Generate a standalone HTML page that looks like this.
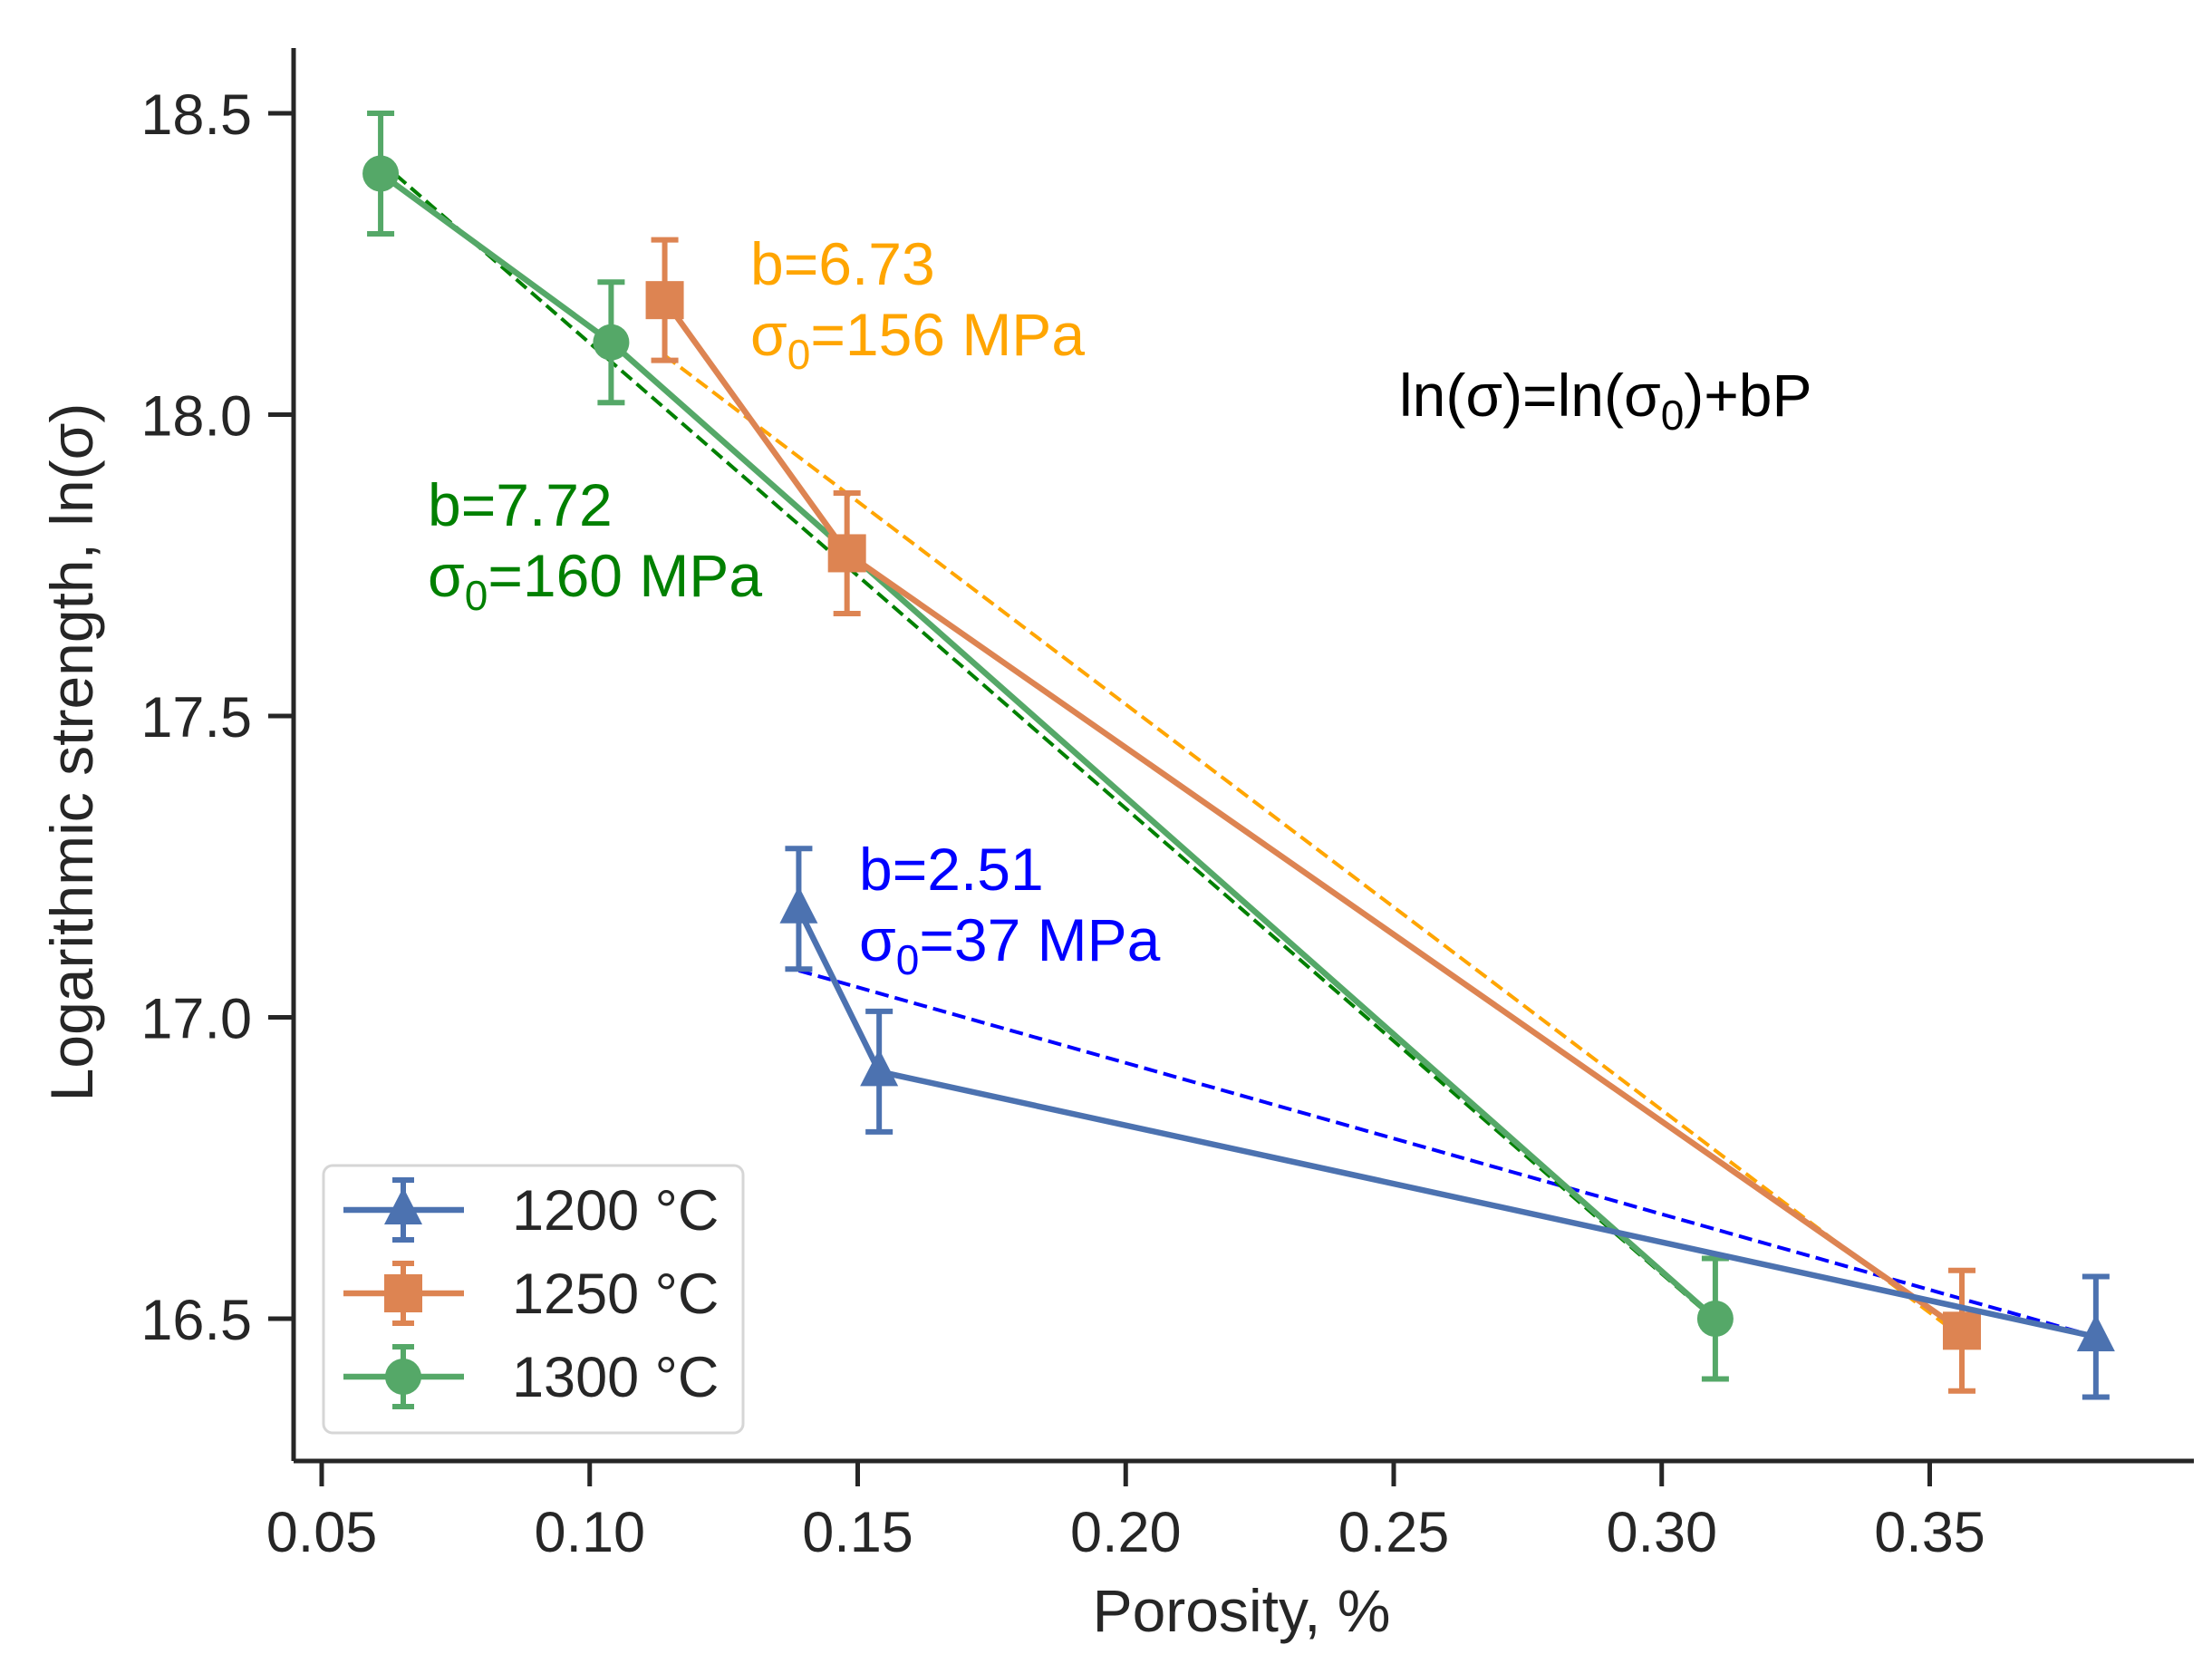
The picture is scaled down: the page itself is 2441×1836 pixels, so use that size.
<!DOCTYPE html>
<html><head><meta charset="utf-8"><style>body{margin:0;background:#fff}svg{display:block}text{font-family:"Liberation Sans",sans-serif}</style></head>
<body>
<svg id="chart" width="2441" height="1836" viewBox="0 0 2441 1836" xmlns="http://www.w3.org/2000/svg"></svg>
<script>
const xTicks=[0.05,0.10,0.15,0.20,0.25,0.30,0.35];
const yTicks=[16.5,17.0,17.5,18.0,18.5];
const seriesNames=["1200 °C","1250 °C","1300 °C"];
const x1200=[0.139,0.154,0.381]; const y1200=[17.18,16.91,16.47];
const x1250=[0.114,0.148,0.356]; const y1250=[18.19,17.77,16.48];
const x1300=[0.061,0.104,0.310]; const y1300=[18.40,18.12,16.50];
const errVals=[0.1,0.1,0.1];
const fitB=[2.51,6.73,7.72]; const fitS0=[37,156,160];
const S="http://www.w3.org/2000/svg", svg=document.getElementById('chart');
const X=v=>355+(v-0.05)*5915, Y=v=>125+(18.5-v)*665;
function el(t,a,p){const e=document.createElementNS(S,t);for(const k in a)e.setAttribute(k,a[k]);(p||svg).appendChild(e);return e;}
const dark="#262626";
let ax=el('line',{x1:324,y1:1612,x2:2421,y2:1612,stroke:dark,'stroke-width':5});

ax=el('line',{x1:324,y1:1612,x2:324,y2:53,stroke:dark,'stroke-width':5});

xTicks.forEach(v=>{const l=el('line',{x1:X(v),y1:1614,x2:X(v),y2:1640,stroke:dark,'stroke-width':5});

const t=el('text',{x:X(v),y:1712,'font-size':63,'text-anchor':'middle',fill:dark});t.textContent=v.toFixed(2);
});
yTicks.forEach(v=>{const l=el('line',{x1:322,y1:Y(v),x2:296,y2:Y(v),stroke:dark,'stroke-width':5});

const t=el('text',{x:278,y:Y(v)+23,'font-size':63,'text-anchor':'end',fill:dark});t.textContent=v.toFixed(1);
});
let t=el('text',{x:1370,y:1800,'font-size':66,'text-anchor':'middle',fill:dark});t.textContent="Porosity, %";

t=el('text',{x:0,y:0,'font-size':66,'text-anchor':'middle',fill:dark,transform:'translate(102,830) rotate(-90)'});t.textContent="Logarithmic strength, ln(σ)";

const fitCols=["blue","orange","green"], xs=[x1200,x1250,x1300];
fitB.forEach((b,i)=>{const a=Math.log(fitS0[i]*1e6);const xa=Math.min(...xs[i]),xb=Math.max(...xs[i]);
const l=el('line',{x1:X(xa),y1:Y(a-b*xa),x2:X(xb),y2:Y(a-b*xb),stroke:fitCols[i],'stroke-width':4,'stroke-dasharray':'15,7'});
});
const cols=["#4c72b0","#dd8452","#55a868"], ys=[y1200,y1250,y1300], mk=["tri","sq","circ"];
function marker(type,cx,cy,c,g){let m;
if(type=="tri")m=el('polygon',{points:`${cx},${cy-25} ${cx-21},${cy+16} ${cx+21},${cy+16}`,fill:c},g);
else if(type=="sq")m=el('rect',{x:cx-21,y:cy-21,width:42,height:42,fill:c},g);
else m=el('circle',{cx:cx,cy:cy,r:20,fill:c},g);return m;}
[2,1,0].forEach(i=>{const g=el('g',{});
const pl=el('polyline',{points:xs[i].map((x,j)=>X(x)+','+Y(ys[i][j])).join(' '),fill:'none',stroke:cols[i],'stroke-width':6.5},g);

xs[i].forEach((x,j)=>{const cx=X(x),y=ys[i][j],e=errVals[j];
const eb=el('path',{d:`M${cx},${Y(y+e)}V${Y(y-e)}M${cx-15},${Y(y+e)}H${cx+15}M${cx-15},${Y(y-e)}H${cx+15}`,stroke:cols[i],'stroke-width':6,fill:'none'},g);

const m=marker(mk[i],cx,Y(y),cols[i],g);});});
function txt(x,y,s,c,name,sub){const e=el('text',{x:x,y:y,'font-size':66,fill:c});
if(sub){e.appendChild(document.createTextNode(s[0]));const ts=el('tspan',{'font-size':46,dy:15},e);ts.textContent=sub;const t2=el('tspan',{dy:-15},e);t2.textContent=s[1];}
else e.textContent=s;}
txt(828,314,"b=6.73","orange","annot-1250-b");txt(828,392,["σ","=156 MPa"],"orange","annot-1250-s0","0");
txt(472,580,"b=7.72","green","annot-1300-b");txt(472,658,["σ","=160 MPa"],"green","annot-1300-s0","0");
txt(948,982,"b=2.51","blue","annot-1200-b");txt(948,1060,["σ","=37 MPa"],"blue","annot-1200-s0","0");
txt(1544,459,["ln(σ)=ln(σ",")+bP"],"#000","formula","0");
const lg=el('g',{});
el('rect',{x:357,y:1286,width:463,height:295,rx:10,fill:'#fff',stroke:'#d6d6d6','stroke-width':3},lg);
[0,1,2].forEach(i=>{const cy=1335+i*92;const g=el('g',{},lg);
el('line',{x1:379,y1:cy,x2:512,y2:cy,stroke:cols[i],'stroke-width':6.5},g);
el('path',{d:`M445,${cy-33}V${cy+33}M433,${cy-33}H457M433,${cy+33}H457`,stroke:cols[i],'stroke-width':6},g);
marker(mk[i],445,cy,cols[i],g);
const tt=el('text',{x:565,y:cy+22,'font-size':63,fill:dark},g);tt.textContent=seriesNames[i];});
</script>
</body></html>
